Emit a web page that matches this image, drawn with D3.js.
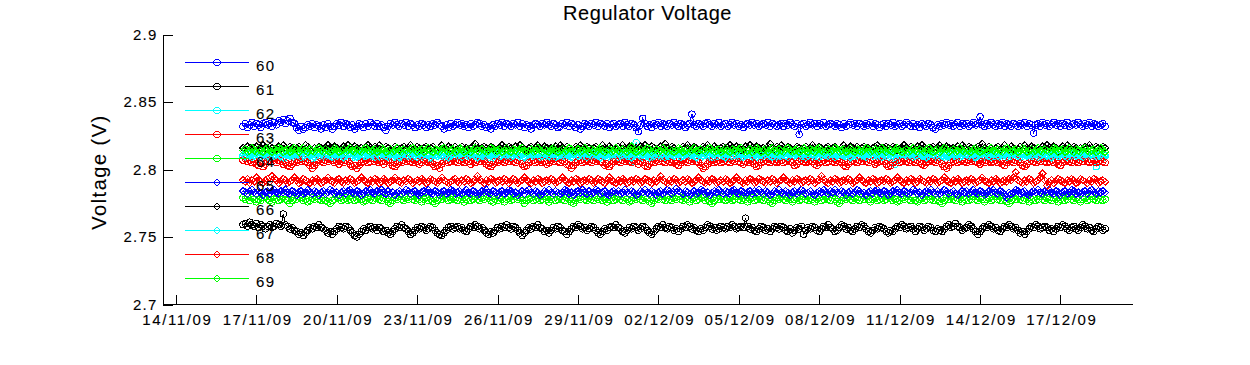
<!DOCTYPE html>
<html><head><meta charset="utf-8">
<script src="https://cdn.jsdelivr.net/npm/d3@7"></script>
<style>
body{margin:0;background:#fff}
svg{display:block}
text{font-family:"Liberation Sans",Arial,Helvetica,sans-serif;fill:#000;stroke:#000;stroke-width:0.1px}
</style>
</head><body>
<svg id="chart" width="1250" height="365"></svg>
<script>
// ---------------- data ----------------
const title = "Regulator Voltage";
const yLabel = "Voltage (V)";
const seriesNames = ["60","61","62","63","64","65","66","67","68","69"];
const startTime = "16/11/09 12:00";   // first sample
const stepHours = 2;                  // sampling interval
const xTickLabels = ["14/11/09","17/11/09","20/11/09","23/11/09","26/11/09","29/11/09","02/12/09","05/12/09","08/12/09","11/12/09","14/12/09","17/12/09"];
const yTickLabels = ["2.7","2.75","2.8","2.85","2.9"];
const xLimits = ["13/11/09 12:21","19/12/09 16:05"];
const yLimits = [2.7, 2.9];

// readings in millivolts, one row per day (12:00 .. 10:00)
const v60 = [2832,2834,2831,2833,2835,2832,2834,2833,2831,2834,2835,2833,
2834,2832,2835,2833,2836,2835,2837,2834,2836,2838,2835,2834,
2831,2829,2832,2830,2831,2833,2832,2834,2831,2833,2832,2830,
2833,2831,2834,2832,2830,2832,2834,2833,2835,2832,2834,2833,
2831,2833,2830,2832,2834,2833,2831,2834,2832,2835,2833,2832,
2834,2832,2833,2831,2829,2832,2834,2833,2835,2833,2832,2834,
2833,2835,2832,2834,2833,2831,2833,2832,2834,2833,2831,2833,
2832,2834,2833,2835,2833,2832,2830,2833,2831,2834,2832,2833,
2835,2833,2834,2832,2833,2831,2834,2832,2833,2835,2834,2832,
2833,2831,2832,2830,2833,2832,2834,2833,2835,2832,2834,2833,
2832,2834,2833,2835,2832,2834,2831,2833,2832,2830,2833,2834,
2833,2832,2834,2833,2835,2833,2832,2834,2833,2831,2832,2834,
2833,2835,2832,2834,2833,2831,2833,2830,2832,2834,2833,2832,
2834,2833,2835,2832,2834,2833,2832,2834,2831,2833,2834,2832,
2833,2834,2832,2835,2833,2832,2834,2833,2831,2828,2833,2838,
2834,2832,2833,2831,2834,2833,2835,2832,2834,2833,2832,2834,
2833,2835,2833,2832,2834,2833,2831,2833,2834,2841,2833,2832,
2834,2833,2832,2834,2835,2833,2832,2834,2833,2835,2832,2833,
2834,2832,2833,2835,2833,2834,2832,2833,2831,2833,2834,2833,
2835,2833,2834,2832,2833,2834,2833,2835,2832,2834,2833,2832,
2833,2834,2832,2834,2833,2835,2833,2832,2834,2826,2833,2834,
2832,2833,2835,2833,2834,2832,2834,2833,2835,2832,2833,2834,
2833,2832,2834,2833,2831,2834,2832,2833,2835,2833,2834,2832,
2834,2833,2832,2834,2833,2835,2832,2834,2833,2831,2833,2834,
2832,2834,2833,2835,2832,2833,2834,2832,2833,2835,2833,2832,
2834,2832,2833,2831,2834,2833,2832,2834,2833,2831,2830,2833,
2832,2834,2833,2835,2833,2834,2832,2833,2835,2832,2834,2833,
2834,2832,2833,2835,2833,2834,2839,2833,2832,2834,2833,2835,
2833,2832,2834,2833,2835,2832,2834,2833,2832,2834,2833,2832,
2834,2833,2835,2832,2834,2833,2827,2833,2834,2832,2835,2833,
2834,2832,2833,2835,2833,2834,2832,2834,2833,2835,2832,2833,
2834,2833,2835,2833,2832,2834,2833,2835,2832,2834,2833,2832,
2833,2834,2832];

const v61 = [2759,2760,2758,2761,2759,2758,2760,2757,2759,2758,2756,2758,
2759,2757,2758,2760,2759,2758,2767,2759,2758,2756,2757,2755,
2754,2752,2753,2751,2753,2755,2757,2756,2758,2757,2759,2757,
2756,2755,2753,2754,2752,2754,2756,2758,2757,2756,2758,2757,
2755,2753,2751,2750,2752,2754,2756,2755,2757,2758,2756,2757,
2755,2757,2756,2754,2755,2753,2752,2754,2756,2758,2757,2759,
2757,2756,2754,2752,2753,2755,2757,2756,2758,2757,2755,2756,
2758,2757,2755,2753,2752,2751,2753,2755,2757,2758,2756,2757,
2758,2756,2757,2755,2754,2756,2758,2757,2759,2758,2756,2757,
2755,2753,2752,2754,2753,2755,2757,2756,2758,2757,2759,2757,
2756,2758,2757,2755,2753,2751,2753,2755,2757,2756,2758,2757,
2759,2757,2756,2754,2755,2753,2755,2757,2756,2758,2757,2755,
2754,2752,2754,2756,2758,2757,2759,2758,2756,2757,2755,2756,
2758,2757,2755,2753,2752,2754,2756,2755,2757,2758,2757,2759,
2757,2756,2754,2753,2755,2757,2756,2758,2757,2755,2756,2758,
2757,2755,2753,2752,2754,2756,2758,2757,2759,2757,2756,2758,
2757,2755,2756,2754,2756,2758,2757,2759,2758,2756,2757,2755,
2754,2756,2755,2757,2759,2758,2756,2757,2755,2756,2758,2757,
2756,2758,2757,2759,2758,2756,2757,2758,2757,2764,2758,2756,
2757,2755,2754,2756,2758,2757,2755,2756,2754,2756,2758,2757,
2756,2758,2757,2755,2754,2756,2753,2755,2757,2756,2758,2752,
2755,2757,2756,2758,2757,2755,2754,2756,2758,2757,2759,2757,
2756,2754,2755,2757,2759,2758,2756,2757,2755,2754,2756,2758,
2757,2759,2758,2756,2754,2753,2755,2757,2756,2758,2757,2756,
2754,2753,2755,2754,2756,2758,2757,2759,2758,2756,2757,2758,
2756,2754,2756,2758,2757,2755,2756,2758,2757,2755,2754,2756,
2755,2754,2756,2758,2759,2757,2758,2760,2758,2757,2755,2756,
2757,2759,2758,2756,2754,2752,2754,2756,2758,2757,2759,2758,
2756,2757,2755,2754,2756,2758,2757,2759,2758,2756,2757,2755,
2753,2754,2752,2754,2756,2758,2757,2759,2758,2756,2757,2758,
2757,2755,2756,2754,2756,2758,2757,2759,2758,2756,2755,2757,
2758,2756,2755,2757,2759,2758,2756,2757,2755,2754,2756,2758,
2757,2755,2756];

const v62 = [2810,2811,2809,2811,2812,2810,2809,2811,2810,2812,2811,2809,
2810,2812,2811,2809,2810,2811,2808,2810,2812,2811,2810,2809,
2811,2810,2812,2810,2809,2811,2810,2808,2810,2811,2812,2810,
2809,2811,2810,2812,2811,2809,2810,2811,2809,2810,2812,2811,
2810,2809,2811,2810,2812,2810,2811,2809,2808,2810,2811,2810,
2812,2811,2809,2810,2811,2810,2812,2811,2809,2810,2811,2809,
2810,2812,2810,2811,2809,2810,2811,2812,2810,2809,2811,2810,
2808,2810,2811,2810,2812,2811,2809,2810,2811,2810,2812,2810,
2811,2809,2810,2812,2811,2810,2809,2811,2810,2812,2810,2811,
2810,2811,2809,2810,2808,2810,2811,2812,2810,2811,2809,2810,
2812,2810,2811,2809,2810,2811,2810,2812,2811,2809,2810,2811,
2809,2811,2810,2812,2810,2809,2811,2810,2808,2810,2812,2811,
2810,2812,2811,2810,2809,2811,2810,2812,2811,2810,2809,2810,
2811,2810,2812,2811,2809,2810,2811,2809,2810,2812,2811,2810,
2809,2811,2810,2812,2811,2810,2806,2811,2820,2810,2811,2809,
2810,2812,2811,2809,2810,2811,2810,2812,2810,2809,2811,2810,
2812,2810,2809,2811,2810,2812,2811,2810,2809,2811,2810,2812,
2811,2809,2810,2812,2811,2810,2808,2810,2811,2810,2812,2811,
2810,2811,2809,2810,2812,2811,2810,2809,2811,2812,2810,2811,
2809,2810,2812,2811,2810,2809,2811,2810,2812,2810,2811,2809,
2811,2810,2812,2810,2809,2811,2810,2812,2811,2810,2808,2810,
2812,2811,2810,2809,2811,2810,2812,2811,2809,2810,2811,2810,
2810,2812,2811,2809,2810,2811,2810,2812,2810,2809,2811,2812,
2810,2811,2809,2810,2812,2811,2810,2809,2811,2810,2812,2810,
2811,2809,2810,2812,2804,2810,2811,2809,2810,2812,2811,2810,
2809,2811,2810,2812,2811,2810,2809,2810,2812,2811,2810,2809,
2811,2810,2812,2810,2809,2811,2810,2812,2811,2809,2810,2811,
2812,2810,2811,2809,2810,2812,2811,2810,2809,2811,2810,2812,
2810,2811,2809,2810,2812,2811,2810,2808,2810,2811,2812,2810,
2811,2810,2812,2811,2809,2810,2811,2810,2812,2810,2809,2811,
2810,2812,2811,2810,2809,2811,2810,2812,2811,2809,2810,2811,
2812,2810,2811,2809,2810,2812,2811,2810,2809,2811,2802,2810,
2811,2809,2810];

const v63 = [2807,2808,2806,2807,2805,2806,2804,2803,2805,2802,2804,2806,
2807,2806,2808,2805,2807,2806,2804,2805,2803,2802,2804,2806,
2805,2807,2806,2808,2806,2805,2803,2801,2803,2805,2807,2806,
2805,2807,2806,2808,2807,2805,2806,2804,2806,2805,2807,2806,
2804,2802,2803,2801,2803,2805,2806,2807,2805,2806,2808,2806,
2807,2805,2806,2804,2806,2807,2805,2803,2802,2804,2806,2805,
2807,2806,2808,2806,2805,2807,2806,2804,2805,2807,2806,2805,
2806,2804,2802,2803,2801,2804,2806,2807,2805,2806,2808,2806,
2805,2807,2806,2805,2807,2806,2804,2806,2805,2807,2806,2808,
2806,2804,2803,2802,2804,2806,2805,2807,2806,2805,2807,2806,
2808,2806,2805,2807,2806,2804,2802,2803,2805,2806,2807,2805,
2806,2807,2805,2806,2804,2805,2807,2806,2808,2806,2805,2807,
2806,2804,2803,2801,2803,2805,2806,2807,2805,2806,2807,2806,
2805,2807,2806,2808,2806,2805,2803,2804,2802,2804,2806,2807,
2806,2805,2807,2806,2808,2806,2805,2807,2806,2804,2806,2805,
2803,2802,2804,2806,2805,2807,2806,2808,2806,2805,2807,2806,
2805,2806,2804,2803,2805,2807,2806,2805,2807,2806,2808,2806,
2805,2803,2801,2802,2804,2806,2807,2805,2806,2807,2805,2806,
2807,2806,2805,2807,2806,2808,2806,2805,2804,2806,2805,2807,
2806,2804,2802,2803,2805,2806,2807,2806,2805,2807,2806,2805,
2806,2807,2805,2806,2808,2806,2805,2803,2804,2806,2807,2806,
2805,2806,2807,2806,2804,2803,2805,2806,2807,2805,2806,2808,
2806,2805,2807,2806,2805,2803,2802,2804,2806,2807,2806,2805,
2807,2806,2808,2806,2805,2807,2806,2804,2805,2806,2807,2806,
2804,2802,2803,2805,2806,2807,2805,2806,2808,2806,2805,2807,
2806,2805,2807,2806,2804,2803,2805,2806,2807,2806,2805,2807,
2806,2804,2802,2801,2803,2805,2806,2807,2805,2806,2807,2806,
2805,2807,2806,2808,2806,2805,2804,2806,2805,2807,2806,2805,
2806,2807,2805,2806,2804,2803,2805,2807,2806,2805,2807,2806,
2805,2803,2802,2804,2806,2807,2806,2805,2807,2806,2808,2806,
2805,2806,2807,2805,2806,2804,2803,2805,2806,2807,2806,2805,
2807,2806,2805,2807,2806,2808,2806,2805,2806,2807,2805,2806,
2807,2806,2805];

const v64 = [2779,2778,2780,2777,2779,2778,2776,2778,2777,2779,2780,2778,
2777,2776,2778,2779,2777,2778,2780,2778,2777,2775,2777,2779,
2778,2780,2779,2777,2778,2776,2777,2779,2778,2780,2778,2777,
2779,2777,2776,2775,2777,2778,2780,2779,2777,2778,2779,2777,
2778,2779,2777,2778,2780,2778,2776,2777,2779,2778,2777,2779,
2780,2778,2777,2779,2778,2776,2775,2777,2779,2778,2780,2778,
2777,2779,2778,2780,2778,2777,2779,2778,2776,2778,2779,2777,
2778,2776,2775,2777,2779,2778,2780,2779,2777,2778,2779,2778,
2777,2779,2778,2776,2778,2779,2777,2778,2780,2778,2777,2779,
2778,2780,2779,2777,2776,2778,2777,2779,2778,2776,2778,2779,
2777,2778,2780,2778,2779,2777,2775,2777,2778,2779,2777,2778,
2779,2777,2778,2780,2778,2776,2778,2779,2777,2778,2780,2778,
2777,2779,2778,2776,2775,2777,2779,2778,2780,2778,2777,2779,
2778,2777,2779,2778,2780,2777,2778,2776,2778,2779,2777,2778,
2780,2778,2777,2779,2778,2776,2777,2779,2778,2780,2778,2777,
2779,2778,2776,2775,2777,2779,2778,2780,2778,2777,2779,2778,
2777,2779,2778,2780,2778,2777,2779,2778,2776,2778,2779,2777,
2778,2780,2779,2777,2778,2776,2775,2777,2779,2778,2780,2778,
2777,2778,2779,2777,2778,2780,2778,2777,2779,2778,2776,2778,
2779,2777,2778,2780,2778,2777,2779,2778,2776,2775,2777,2779,
2778,2780,2778,2777,2779,2778,2776,2778,2779,2777,2778,2780,
2778,2777,2779,2778,2776,2778,2779,2777,2778,2780,2778,2777,
2779,2778,2776,2775,2777,2779,2778,2780,2778,2777,2779,2778,
2777,2779,2778,2780,2778,2776,2778,2779,2777,2778,2779,2777,
2778,2780,2779,2777,2778,2776,2777,2779,2778,2780,2778,2777,
2779,2777,2776,2778,2779,2777,2778,2780,2778,2777,2779,2778,
2776,2775,2777,2779,2778,2780,2778,2777,2779,2778,2776,2778,
2779,2777,2778,2780,2778,2777,2779,2778,2776,2778,2779,2777,
2778,2780,2778,2777,2779,2778,2776,2775,2777,2779,2778,2780,
2778,2777,2779,2778,2776,2778,2779,2777,2778,2780,2778,2777,
2779,2778,2777,2779,2778,2776,2778,2779,2777,2778,2780,2778,
2777,2779,2778,2776,2778,2779,2777,2778,2780,2778,2777,2779,
2778,2777,2778];

const v65 = [2784,2783,2782,2784,2785,2783,2782,2784,2783,2781,2783,2784,
2782,2784,2785,2783,2782,2784,2783,2785,2783,2782,2784,2783,
2781,2783,2784,2782,2783,2785,2783,2782,2784,2783,2781,2783,
2784,2782,2783,2785,2784,2782,2783,2781,2783,2784,2782,2784,
2785,2783,2782,2784,2783,2781,2782,2784,2783,2785,2783,2782,
2784,2783,2785,2783,2782,2784,2782,2783,2781,2783,2784,2782,
2783,2785,2784,2782,2783,2784,2782,2781,2783,2784,2783,2785,
2783,2782,2784,2783,2781,2783,2784,2782,2783,2785,2784,2782,
2783,2784,2782,2783,2785,2783,2782,2784,2783,2781,2782,2784,
2783,2785,2783,2782,2784,2783,2781,2783,2784,2782,2783,2785,
2784,2782,2783,2781,2783,2784,2782,2784,2785,2783,2782,2784,
2783,2781,2782,2784,2783,2785,2783,2782,2784,2783,2782,2783,
2785,2784,2782,2783,2781,2783,2784,2783,2785,2783,2782,2784,
2782,2783,2785,2784,2782,2783,2784,2782,2781,2783,2784,2783,
2784,2782,2783,2785,2783,2782,2784,2783,2781,2782,2784,2783,
2785,2783,2782,2784,2783,2781,2783,2784,2782,2783,2785,2784,
2782,2783,2786,2784,2783,2782,2784,2783,2781,2783,2784,2782,
2783,2785,2784,2782,2783,2781,2783,2784,2783,2785,2783,2782,
2784,2783,2782,2784,2785,2783,2782,2784,2783,2781,2783,2784,
2782,2784,2783,2785,2783,2782,2784,2783,2781,2782,2784,2783,
2785,2783,2782,2784,2783,2781,2783,2784,2782,2783,2785,2784,
2782,2783,2784,2782,2781,2783,2784,2783,2785,2783,2782,2784,
2783,2785,2783,2782,2784,2783,2781,2783,2784,2782,2783,2785,
2784,2782,2783,2781,2783,2784,2782,2784,2785,2783,2782,2784,
2783,2781,2782,2784,2783,2785,2783,2782,2784,2783,2782,2783,
2785,2784,2782,2783,2781,2783,2784,2783,2785,2783,2782,2784,
2782,2783,2785,2784,2782,2783,2784,2782,2781,2783,2784,2783,
2784,2782,2783,2785,2783,2782,2784,2783,2781,2782,2784,2783,
2785,2783,2782,2784,2783,2781,2779,2783,2782,2783,2785,2784,
2782,2783,2784,2782,2781,2783,2784,2783,2785,2783,2782,2784,
2783,2785,2783,2782,2784,2783,2781,2783,2784,2782,2783,2785,
2784,2782,2783,2781,2783,2784,2782,2784,2785,2783,2782,2784,
2783,2784,2783];

const v66 = [2816,2815,2817,2816,2814,2816,2817,2815,2816,2818,2816,2815,
2817,2816,2814,2815,2817,2816,2818,2816,2815,2817,2816,2814,
2816,2817,2815,2816,2818,2817,2815,2814,2816,2815,2817,2816,
2815,2816,2818,2816,2815,2817,2816,2814,2815,2817,2816,2818,
2816,2815,2817,2816,2814,2816,2815,2817,2818,2816,2815,2817,
2816,2818,2816,2815,2817,2816,2814,2815,2817,2816,2815,2816,
2817,2815,2816,2818,2816,2815,2817,2816,2814,2816,2817,2815,
2816,2817,2815,2814,2816,2818,2816,2815,2817,2816,2815,2817,
2815,2816,2817,2815,2816,2814,2816,2817,2819,2816,2815,2816,
2817,2816,2815,2817,2816,2814,2815,2816,2818,2816,2815,2817,
2816,2815,2817,2816,2818,2816,2815,2814,2816,2817,2815,2816,
2818,2816,2815,2817,2816,2814,2816,2815,2817,2816,2818,2816,
2815,2817,2816,2814,2815,2817,2816,2818,2816,2815,2817,2816,
2814,2816,2817,2815,2816,2818,2816,2815,2817,2816,2814,2815,
2817,2816,2818,2816,2815,2817,2816,2814,2816,2815,2817,2816,
2818,2816,2815,2817,2816,2814,2815,2817,2816,2819,2816,2815,
2817,2816,2814,2816,2815,2817,2816,2818,2816,2815,2817,2816,
2814,2815,2817,2816,2818,2816,2815,2817,2816,2814,2816,2817,
2815,2816,2818,2816,2815,2817,2816,2814,2815,2817,2816,2818,
2816,2815,2817,2816,2814,2816,2815,2817,2819,2816,2815,2817,
2816,2818,2816,2815,2817,2816,2814,2815,2817,2816,2815,2816,
2817,2815,2816,2818,2816,2815,2817,2816,2814,2816,2817,2815,
2816,2817,2815,2814,2816,2818,2816,2815,2817,2816,2815,2817,
2815,2816,2817,2815,2816,2814,2816,2817,2818,2816,2815,2816,
2817,2816,2815,2817,2816,2814,2815,2816,2818,2816,2815,2817,
2816,2815,2817,2816,2818,2816,2815,2814,2816,2817,2815,2816,
2818,2816,2815,2817,2816,2814,2816,2815,2817,2816,2818,2816,
2815,2817,2816,2814,2815,2817,2816,2819,2816,2815,2817,2816,
2814,2816,2817,2815,2816,2818,2816,2815,2817,2816,2814,2815,
2817,2816,2818,2816,2815,2817,2816,2814,2816,2815,2817,2816,
2818,2816,2815,2817,2816,2814,2815,2817,2816,2818,2816,2815,
2817,2816,2814,2816,2815,2817,2816,2818,2816,2815,2817,2816,
2815,2817,2816];

const v67 = [2811,2810,2812,2811,2809,2810,2812,2811,2810,2811,2812,2810,
2809,2811,2810,2812,2811,2810,2809,2811,2812,2810,2811,2810,
2812,2811,2809,2810,2811,2812,2810,2811,2809,2810,2812,2811,
2810,2812,2811,2810,2809,2811,2810,2812,2811,2809,2810,2811,
2812,2810,2811,2809,2810,2812,2811,2810,2811,2812,2810,2809,
2811,2810,2812,2811,2810,2809,2811,2812,2810,2811,2809,2810,
2812,2811,2810,2811,2812,2810,2809,2811,2810,2812,2811,2810,
2809,2811,2812,2810,2811,2810,2812,2811,2809,2810,2811,2812,
2810,2811,2809,2812,2811,2810,2811,2812,2810,2809,2811,2810,
2812,2810,2811,2810,2809,2811,2812,2810,2811,2812,2810,2811,
2809,2810,2812,2811,2810,2811,2809,2810,2812,2811,2810,2812,
2811,2809,2810,2812,2811,2810,2812,2811,2809,2810,2811,2810,
2812,2811,2810,2809,2811,2812,2810,2811,2810,2812,2809,2811,
2810,2812,2811,2810,2809,2811,2810,2812,2811,2810,2812,2811,
2809,2810,2811,2812,2810,2811,2809,2810,2812,2811,2810,2811,
2812,2810,2809,2811,2810,2812,2811,2810,2811,2809,2810,2812,
2811,2810,2812,2811,2809,2810,2811,2812,2810,2811,2810,2809,
2811,2812,2810,2811,2810,2812,2809,2811,2810,2812,2811,2810,
2809,2811,2812,2810,2811,2810,2812,2811,2809,2810,2811,2812,
2810,2811,2809,2812,2811,2810,2811,2812,2810,2809,2811,2810,
2812,2810,2811,2810,2809,2811,2812,2810,2811,2812,2810,2811,
2809,2810,2812,2811,2810,2811,2809,2810,2812,2811,2810,2812,
2811,2809,2810,2812,2811,2810,2812,2811,2809,2810,2811,2810,
2812,2811,2810,2809,2811,2812,2810,2811,2810,2812,2809,2811,
2810,2812,2811,2810,2809,2811,2810,2812,2811,2810,2812,2811,
2809,2810,2811,2812,2810,2811,2809,2810,2812,2811,2810,2811,
2812,2810,2809,2811,2810,2812,2811,2810,2811,2809,2810,2812,
2811,2810,2812,2811,2809,2810,2811,2812,2810,2811,2810,2809,
2811,2812,2810,2811,2810,2812,2809,2811,2810,2812,2811,2810,
2809,2811,2812,2810,2811,2810,2812,2811,2809,2810,2811,2812,
2810,2811,2809,2812,2811,2810,2811,2812,2810,2809,2811,2810,
2812,2810,2811,2810,2809,2811,2812,2810,2811,2812,2810,2811,
2810,2812,2811];

const v68 = [2792,2791,2793,2790,2792,2791,2794,2792,2791,2790,2792,2793,
2791,2795,2793,2792,2790,2791,2793,2792,2790,2791,2792,2794,
2792,2790,2791,2793,2792,2791,2790,2792,2791,2793,2792,2790,
2791,2792,2794,2792,2791,2790,2792,2793,2791,2790,2792,2791,
2793,2792,2790,2791,2792,2794,2792,2791,2790,2792,2791,2793,
2792,2790,2791,2793,2792,2790,2791,2792,2794,2792,2791,2790,
2792,2791,2793,2792,2790,2791,2792,2791,2793,2792,2790,2791,
2793,2792,2791,2790,2792,2794,2792,2791,2790,2791,2792,2793,
2791,2790,2792,2791,2793,2792,2790,2791,2792,2795,2792,2791,
2790,2792,2791,2793,2792,2790,2791,2792,2791,2793,2792,2790,
2791,2793,2792,2790,2791,2792,2794,2792,2791,2790,2792,2791,
2793,2792,2790,2791,2792,2791,2793,2792,2790,2791,2792,2794,
2792,2791,2790,2792,2791,2793,2792,2790,2791,2792,2791,2793,
2792,2790,2791,2793,2792,2791,2790,2792,2794,2792,2791,2790,
2792,2791,2793,2792,2790,2791,2792,2791,2793,2792,2790,2791,
2793,2792,2791,2790,2792,2791,2793,2795,2792,2791,2790,2792,
2791,2793,2792,2790,2791,2792,2791,2793,2792,2790,2791,2792,
2794,2792,2791,2790,2792,2791,2793,2792,2790,2791,2792,2791,
2793,2792,2790,2791,2792,2794,2792,2791,2790,2792,2791,2793,
2792,2790,2791,2793,2792,2791,2790,2792,2791,2793,2792,2790,
2791,2792,2794,2792,2791,2790,2792,2791,2793,2792,2790,2791,
2792,2791,2793,2792,2790,2791,2792,2795,2792,2791,2790,2792,
2791,2793,2792,2790,2791,2792,2791,2793,2792,2790,2791,2792,
2794,2792,2791,2790,2792,2791,2793,2792,2790,2791,2792,2791,
2793,2792,2790,2791,2792,2794,2792,2791,2790,2792,2791,2793,
2792,2790,2791,2793,2792,2791,2790,2792,2791,2793,2792,2790,
2791,2792,2794,2792,2791,2790,2792,2791,2793,2792,2790,2791,
2792,2791,2793,2792,2790,2791,2792,2794,2792,2791,2790,2792,
2791,2793,2792,2790,2791,2792,2791,2793,2792,2794,2798,2792,
2791,2790,2792,2791,2793,2792,2790,2791,2792,2794,2797,2792,
2788,2791,2792,2790,2791,2793,2792,2791,2790,2792,2791,2793,
2792,2790,2791,2793,2792,2791,2790,2792,2791,2793,2792,2790,
2791,2792,2791];

const v69 = [2814,2815,2813,2814,2816,2814,2813,2815,2814,2813,2815,2816,
2814,2813,2815,2814,2816,2815,2813,2814,2815,2813,2814,2816,
2815,2813,2814,2816,2814,2813,2815,2814,2813,2815,2816,2814,
2813,2815,2814,2813,2814,2816,2815,2813,2814,2815,2813,2814,
2816,2814,2813,2815,2814,2813,2815,2816,2814,2813,2814,2815,
2813,2814,2816,2815,2813,2814,2815,2813,2814,2816,2814,2813,
2815,2814,2813,2815,2816,2814,2813,2814,2815,2813,2814,2816,
2814,2813,2815,2814,2813,2815,2816,2814,2813,2814,2815,2813,
2814,2816,2815,2813,2814,2815,2813,2814,2816,2814,2813,2815,
2814,2813,2814,2816,2815,2813,2814,2815,2813,2814,2816,2814,
2813,2815,2814,2813,2815,2816,2814,2813,2814,2815,2813,2814,
2816,2814,2813,2815,2814,2813,2815,2816,2814,2813,2814,2815,
2813,2814,2816,2815,2813,2814,2815,2813,2814,2816,2814,2813,
2815,2814,2813,2815,2816,2814,2813,2814,2815,2813,2814,2816,
2814,2813,2815,2814,2813,2815,2817,2814,2813,2814,2815,2813,
2814,2816,2815,2813,2814,2815,2813,2814,2816,2814,2813,2815,
2814,2813,2814,2816,2815,2813,2814,2815,2813,2814,2816,2814,
2813,2815,2814,2813,2815,2816,2814,2813,2814,2815,2813,2814,
2816,2814,2813,2815,2814,2813,2815,2816,2814,2813,2814,2815,
2813,2814,2816,2815,2813,2814,2815,2813,2814,2816,2814,2813,
2815,2814,2813,2815,2816,2814,2813,2814,2815,2813,2814,2816,
2814,2813,2815,2814,2813,2815,2816,2814,2813,2814,2815,2813,
2814,2816,2815,2813,2814,2815,2813,2814,2816,2814,2813,2815,
2814,2813,2814,2816,2815,2813,2814,2815,2813,2814,2816,2814,
2813,2815,2814,2813,2815,2816,2814,2813,2814,2815,2813,2814,
2816,2814,2813,2815,2814,2813,2815,2816,2814,2813,2814,2815,
2813,2814,2816,2815,2813,2814,2815,2813,2814,2816,2814,2813,
2815,2814,2813,2815,2816,2814,2813,2814,2815,2813,2814,2816,
2814,2813,2815,2814,2813,2815,2816,2814,2813,2814,2815,2813,
2814,2816,2815,2813,2814,2815,2813,2814,2816,2814,2813,2815,
2814,2813,2814,2816,2815,2813,2814,2815,2813,2814,2816,2814,
2813,2815,2814,2813,2815,2816,2814,2813,2814,2815,2813,2814,
2816,2814,2813];

const seriesValues = [v60,v61,v62,v63,v64,v65,v66,v67,v68,v69];

// ---------------- styles ----------------
const seriesColors = ["#0000ff","#000000","#00ffff","#ff0000","#00ff00",
                      "#0000ff","#000000","#00ffff","#ff0000","#00ff00"];
const seriesMarkers = ["circle","circle","circle","circle","circle",
                       "diamond","diamond","diamond","diamond","diamond"];

// ---------------- chart ----------------
const svg = d3.select("#chart");
const plot = {left:163, right:1132, top:34.5, bottom:304.5};
const parseDT = d3.timeParse("%d/%m/%y %H:%M");
const parseD = d3.timeParse("%d/%m/%y");
const t0 = parseDT(startTime);

const x = d3.scaleTime().domain(xLimits.map(parseDT)).range([plot.left, plot.right]);
const y = d3.scaleLinear().domain(yLimits).range([plot.bottom, plot.top]);
const mV = v => v / 1000;   // millivolts -> volts

const line = d3.line().x(d => x(d.t)).y(d => y(mV(d.v)));
const diamond = r => `M0,${-r}L${r},0L0,${r}L${-r},0Z`;

seriesValues.forEach((vals, k) => {
  const pts = vals.map((v, i) => ({t: d3.timeHour.offset(t0, i*stepHours), v}));
  const g = svg.append("g").attr("shape-rendering","crispEdges");
  g.append("path").datum(pts).attr("d", line)
    .attr("fill","none").attr("stroke", seriesColors[k]).attr("stroke-width",1);
  if (seriesMarkers[k] === "circle") {
    g.selectAll("circle").data(pts).join("circle")
      .attr("cx", d => x(d.t)).attr("cy", d => y(mV(d.v))).attr("r", 3.2)
      .attr("fill","none").attr("stroke", seriesColors[k]).attr("stroke-width",1);
  } else {
    g.selectAll("path.m").data(pts).join("path").attr("class","m")
      .attr("d", diamond(3.6))
      .attr("transform", d => `translate(${x(d.t)},${y(mV(d.v))})`)
      .attr("fill","none").attr("stroke", seriesColors[k]).attr("stroke-width",1);
  }
});

const font = '"Liberation Sans",Arial,Helvetica,sans-serif';

// axes
const xAxis = d3.axisBottom(x)
  .tickValues(xTickLabels.map(parseD))
  .tickFormat((d,i) => xTickLabels[i])
  .tickSizeInner(-9.5).tickSizeOuter(0).tickPadding(10);
const gx = svg.append("g").attr("transform", `translate(0,${plot.bottom-0.5})`).call(xAxis);
gx.selectAll("text").attr("font-size",15).attr("font-family",font)
  .style("letter-spacing","1.6px").attr("dx","0.8px");

const yAxis = d3.axisLeft(y)
  .tickValues(yTickLabels.map(Number))
  .tickFormat((d,i) => yTickLabels[i])
  .tickSizeInner(-9.5).tickSizeOuter(0).tickPadding(5.5);
const gy = svg.append("g").attr("transform", `translate(${plot.left},0)`).call(yAxis);
gy.selectAll("text").attr("font-size",15).attr("font-family",font)
  .style("letter-spacing","1.2px");

svg.selectAll(".domain, .tick line").attr("stroke","#000").attr("shape-rendering","crispEdges");

// title
svg.append("text").attr("x", (plot.left+plot.right)/2).attr("y", 20)
  .attr("text-anchor","middle").attr("font-size",20)
  .style("letter-spacing","0.6px").text(title);

// y label
svg.append("text").attr("transform","translate(106,172) rotate(-90)")
  .attr("text-anchor","middle").attr("font-size",20)
  .style("letter-spacing","1.5px").text(yLabel);

// legend
const leg = svg.append("g").attr("shape-rendering","crispEdges");
seriesNames.forEach((name, k) => {
  const ly = 62.5 + 24*k;
  leg.append("line").attr("x1",185).attr("x2",249).attr("y1",ly).attr("y2",ly)
    .attr("stroke", seriesColors[k]).attr("stroke-width",1);
  if (seriesMarkers[k] === "circle") {
    leg.append("circle").attr("cx",217).attr("cy",ly).attr("r",3.2)
      .attr("fill","none").attr("stroke",seriesColors[k]);
  } else {
    leg.append("path").attr("d", diamond(3.6)).attr("transform",`translate(217,${ly})`)
      .attr("fill","none").attr("stroke",seriesColors[k]);
  }
  leg.append("text").attr("x",256).attr("y",ly+8).attr("font-size",15)
    .attr("shape-rendering","auto")
    .style("letter-spacing","1.4px").text(name);
});
</script>
</body></html>
